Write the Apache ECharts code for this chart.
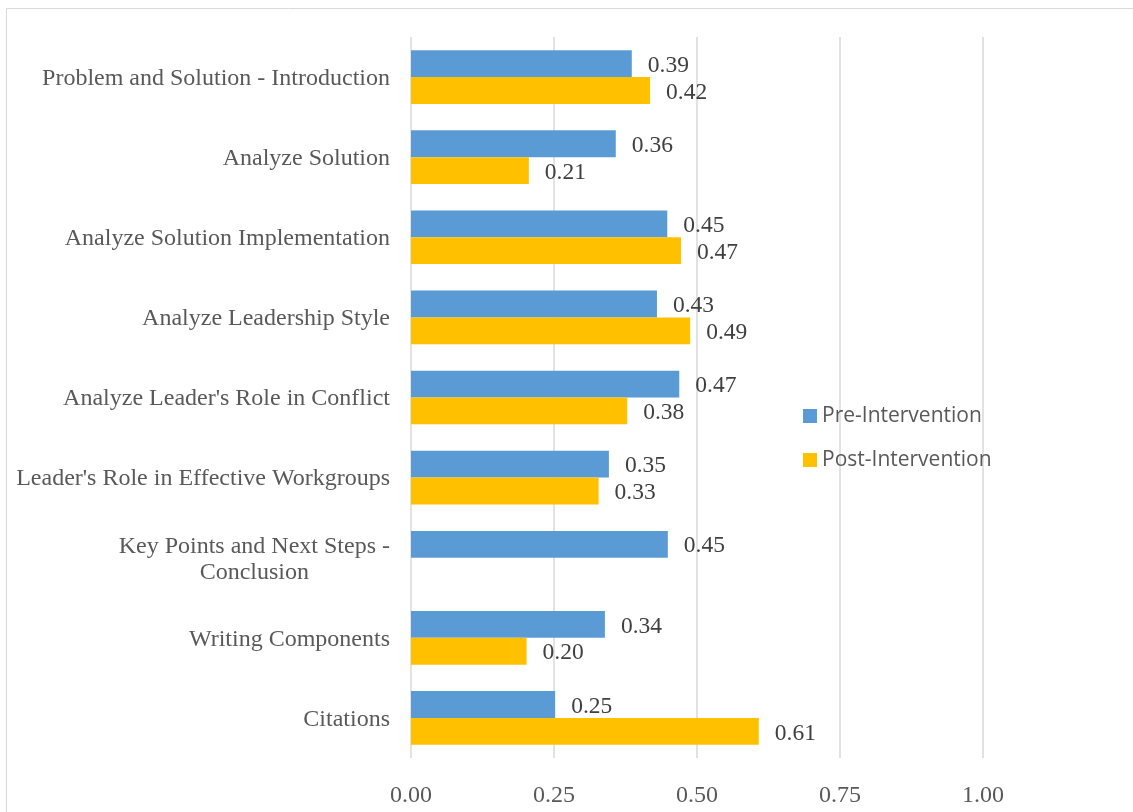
<!DOCTYPE html>
<html><head><meta charset="utf-8">
<script src="https://cdn.jsdelivr.net/npm/echarts@6/dist/echarts.min.js"></script>
<style>html,body{margin:0;padding:0;background:#fff}#c{width:1133px;height:812px}</style>
</head><body><div id="c"></div>
<script>
var categories = ["Problem and Solution - Introduction","Analyze Solution","Analyze Solution Implementation","Analyze Leadership Style","Analyze Leader's Role in Conflict","Leader's Role in Effective Workgroups","Key Points and Next Steps -\nConclusion","Writing Components","Citations"];
var preValues = [0.386, 0.358, 0.448, 0.430, 0.469, 0.346, 0.449, 0.339, 0.252];
var postValues = [0.418, 0.206, 0.472, 0.488, 0.378, 0.328, null, 0.202, 0.608];
var xTicks = [0, 0.25, 0.5, 0.75, 1.0];

var chart = echarts.init(document.getElementById('c'));
var serif = 'Liberation Serif';
var lbl = {show:true, position:'right', distance:16, offset:[0,2], fontFamily:serif, fontSize:23.5, color:'#404040',
  formatter:function(p){return p.value==null?'':p.value.toFixed(2);}};
chart.setOption({
  animation:false,
  graphic:[{type:'rect', shape:{x:6.5,y:8.5,width:1200,height:900}, style:{fill:'none',stroke:'#d9d9d9',lineWidth:1}}],
  grid:{left:411, right:150, top:37, bottom:54},
  legend:{orient:'vertical', left:798, top:397, itemWidth:14, itemHeight:14, itemGap:16,
    icon:'rect', textStyle:{fontFamily:'Open Sans', fontSize:21, color:'#595959', lineHeight:28},
    data:['Pre-Intervention','Post-Intervention']},
  xAxis:{type:'value', min:0, max:1, interval:0.25,
    axisLine:{show:false}, axisTick:{show:false},
    splitLine:{lineStyle:{color:'#d9d9d9', width:1.5}},
    axisLabel:{fontFamily:serif, fontSize:24, color:'#595959', margin:26,
      formatter:function(v){return v.toFixed(2);}}},
  yAxis:{type:'category', data:categories, inverse:true,
    axisLine:{show:false}, axisTick:{show:false},
    axisLabel:{fontFamily:serif, fontSize:24, color:'#595959', margin:21, lineHeight:26,
      formatter:function(v){return v.split('\n').map(function(s){return '{a|'+s+'}';}).join('\n');},
      rich:{a:{fontFamily:serif, fontSize:24, color:'#595959', align:'center', lineHeight:26, padding:[3,0,0,0]}}}},
  series:[
    {name:'Pre-Intervention', type:'bar', data:preValues, itemStyle:{color:'#5b9bd5'},
     barGap:'0%', barCategoryGap:'33%', label:lbl},
    {name:'Post-Intervention', type:'bar', data:postValues, itemStyle:{color:'#ffc000'},
     barGap:'0%', barCategoryGap:'33%', label:lbl}
  ]
});
</script></body></html>
